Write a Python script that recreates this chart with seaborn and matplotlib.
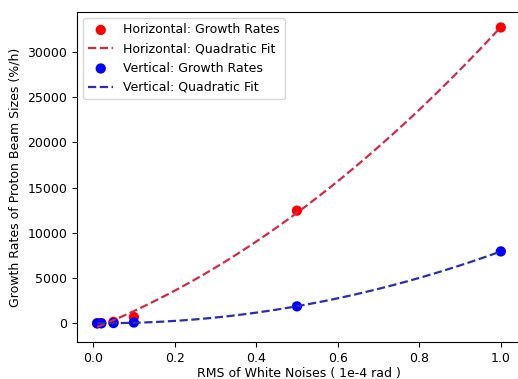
import numpy as np
import pandas as pd
import matplotlib
matplotlib.use("Agg")
import matplotlib.pyplot as plt
import seaborn as sns

noise_rms = [0.01, 0.02, 0.05, 0.1, 0.5, 1.0]
horizontal_rates = [5, 30, 160, 700, 12450, 32700]
vertical_rates = [1, 5, 30, 90, 1880, 7950]

x_fit = np.linspace(min(noise_rms), max(noise_rms), 200)
h_coef = np.polyfit(noise_rms, horizontal_rates, 2)
v_coef = np.polyfit(noise_rms, vertical_rates, 2)
h_fit = np.polyval(h_coef, x_fit)
v_fit = np.polyval(v_coef, x_fit)

plt.rcParams["font.size"] = 9
dpi = 100
fig = plt.figure(figsize=(518 / dpi, 379 / dpi), dpi=dpi)
ax = fig.add_axes([77 / 518, 1 - 342 / 379, 444 / 518, 330 / 379])

sns.scatterplot(x=noise_rms, y=horizontal_rates, color="#ff0000", s=55,
                edgecolor="none", ax=ax, label="Horizontal: Growth Rates", legend=False)
sns.lineplot(x=x_fit, y=h_fit, color="#d42a48", linestyle="--", linewidth=1.6,
             ax=ax, label="Horizontal: Quadratic Fit", legend=False)
sns.scatterplot(x=noise_rms, y=vertical_rates, color="#0000ff", s=55,
                edgecolor="none", ax=ax, label="Vertical: Growth Rates", legend=False)
sns.lineplot(x=x_fit, y=v_fit, color="#2c2cb4", linestyle="--", linewidth=1.6,
             ax=ax, label="Vertical: Quadratic Fit", legend=False)

ax.set_xlabel("RMS of White Noises ( 1e-4 rad )", labelpad=1.5)
ax.set_ylabel("Growth Rates of Proton Beam Sizes (%/h)")

handles, labels = ax.get_legend_handles_labels()
order = ["Horizontal: Growth Rates", "Horizontal: Quadratic Fit",
         "Vertical: Growth Rates", "Vertical: Quadratic Fit"]
hmap = dict(zip(labels, handles))
ax.legend([hmap[o] for o in order], order, loc="upper left")

fig.savefig("out.png", dpi=dpi)
